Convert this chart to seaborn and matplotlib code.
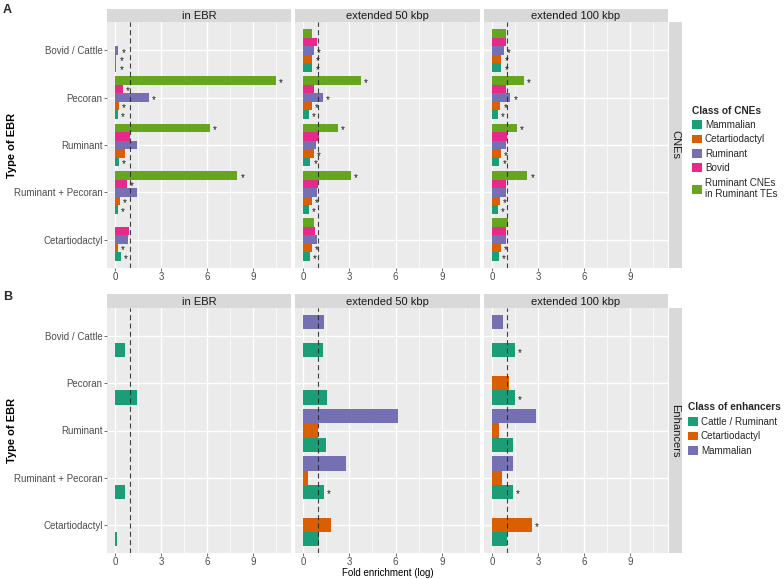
import numpy as np
import pandas as pd
import matplotlib
matplotlib.use("Agg")
import matplotlib.pyplot as plt
from matplotlib.patches import Patch
import seaborn as sns

# ---------------- data ----------------
ebr_types = ["Bovid / Cattle", "Pecoran", "Ruminant", "Ruminant + Pecoran", "Cetartiodactyl"]
facets = ["in EBR", "extended 50 kbp", "extended 100 kbp"]

cne_classes = ["Mammalian", "Cetartiodactyl", "Ruminant", "Bovid", "Ruminant CNEs\nin Ruminant TEs"]
cne_colors = ["#1B9E77", "#D95F02", "#7570B3", "#E7298A", "#66A61E"]

# rows: CNE classes, columns: EBR types
cne_in_ebr = [
    [0.09, 0.20, 0.24, 0.20, 0.41],
    [0.09, 0.26, 0.63, 0.33, 0.20],
    [0.22, 2.20, 1.41, 1.41, 0.83],
    [0.00, 0.54, 0.98, 0.80, 0.93],
    [0.00, 10.50, 6.20, 7.98, 0.00],
]
cne_in_ebr_sig = [
    [1, 1, 1, 1, 1],
    [1, 1, 0, 1, 1],
    [1, 1, 0, 0, 0],
    [0, 1, 0, 1, 0],
    [0, 1, 1, 1, 0],
]
cne_ext50 = [
    [0.61, 0.39, 0.48, 0.39, 0.46],
    [0.61, 0.57, 0.68, 0.57, 0.57],
    [0.72, 1.29, 0.81, 0.92, 0.88],
    [0.88, 0.74, 1.03, 0.94, 0.77],
    [0.57, 3.74, 2.28, 3.09, 0.70],
]
cne_ext50_sig = [
    [1, 1, 1, 1, 1],
    [1, 1, 1, 1, 1],
    [1, 1, 0, 0, 0],
    [0, 0, 0, 0, 0],
    [0, 1, 1, 1, 0],
]
cne_ext100 = [
    [0.61, 0.37, 0.48, 0.39, 0.46],
    [0.61, 0.55, 0.59, 0.50, 0.59],
    [0.79, 1.20, 0.90, 0.94, 0.94],
    [0.90, 0.90, 0.98, 0.94, 0.94],
    [0.90, 2.10, 1.60, 2.31, 1.05],
]
cne_ext100_sig = [
    [1, 1, 1, 1, 1],
    [1, 1, 1, 1, 1],
    [1, 1, 0, 0, 0],
    [0, 0, 0, 0, 0],
    [0, 1, 1, 1, 0],
]

enh_classes = ["Cattle / Ruminant", "Cetartiodactyl", "Mammalian"]
enh_colors = ["#1B9E77", "#D95F02", "#7570B3"]
enh_in_ebr = [
    [0.66, 1.45, 0.00, 0.66, 0.13],
    [0.00, 0.00, 0.00, 0.00, 0.00],
    [0.00, 0.00, 0.00, 0.00, 0.00],
]
enh_in_ebr_sig = [
    [0, 0, 0, 0, 0],
    [0, 0, 0, 0, 0],
    [0, 0, 0, 0, 0],
]
enh_ext50 = [
    [1.31, 1.53, 1.51, 1.36, 1.03],
    [0.00, 0.00, 0.96, 0.33, 1.82],
    [1.33, 0.00, 6.13, 2.80, 0.00],
]
enh_ext50_sig = [
    [0, 0, 0, 1, 0],
    [0, 0, 0, 0, 0],
    [0, 0, 0, 0, 0],
]
enh_ext100 = [
    [1.51, 1.51, 1.40, 1.35, 0.98],
    [0.00, 1.11, 0.44, 0.66, 2.60],
    [0.72, 0.00, 2.86, 1.40, 0.00],
]
enh_ext100_sig = [
    [1, 1, 0, 1, 0],
    [0, 0, 0, 0, 1],
    [0, 0, 0, 0, 0],
]

x_ticks = [0, 3, 6, 9]

# ---------------- style ----------------
sns.set_theme(style="darkgrid", rc={
    "axes.facecolor": "#EBEBEB",
    "grid.color": "white",
})
plt.rcParams["font.family"] = ["Liberation Sans", "DejaVu Sans"]

W, H = 784, 579
fig = plt.figure(figsize=(W / 100, H / 100), dpi=100)
fig.patch.set_facecolor("white")


def fx(px):
    return px / W


def fy(py):
    return 1 - py / H


def box(x0, y0, x1, y1):
    return [fx(x0), fy(y1), fx(x1) - fx(x0), fy(y0) - fy(y1)]


col_x = [(107, 291), (295, 480), (484, 668)]
rows = [
    dict(top=22, bottom=268, strip_top=8.5, classes=cne_classes, colors=cne_colors,
         data=[cne_in_ebr, cne_ext50, cne_ext100],
         sig=[cne_in_ebr_sig, cne_ext50_sig, cne_ext100_sig],
         side="CNEs", letter="A", letter_top=4, legend_title="Class of CNEs",
         legend_x=692, legend_top=105.5),
    dict(top=308, bottom=553, strip_top=294, classes=enh_classes, colors=enh_colors,
         data=[enh_in_ebr, enh_ext50, enh_ext100],
         sig=[enh_in_ebr_sig, enh_ext50_sig, enh_ext100_sig],
         side="Enhancers", letter="B", letter_top=291, legend_title="Class of enhancers",
         legend_x=688, legend_top=402.5),
]

tick_col = "#4D4D4D"
for r in rows:
    for j, (x0, x1) in enumerate(col_x):
        ax = fig.add_axes(box(x0, r["top"], x1, r["bottom"]))
        vals = r["data"][j]
        sig = r["sig"][j]
        recs = []
        for ci, cls in enumerate(r["classes"]):
            for ei, e in enumerate(ebr_types):
                recs.append(dict(ebr=e, cls=cls, value=vals[ci][ei]))
        df = pd.DataFrame(recs)
        hue_order = r["classes"][::-1]  # first class drawn at bottom of each group
        pal = dict(zip(r["classes"], r["colors"]))
        sns.barplot(data=df, x="value", y="ebr", hue="cls", order=ebr_types,
                    hue_order=hue_order, palette=pal, orient="h", width=0.9,
                    dodge=True, errorbar=None, saturation=1, legend=False, ax=ax,
                    linewidth=0)
        # significance asterisks
        for cont, cls in zip(ax.containers, hue_order):
            ci = r["classes"].index(cls)
            for ei, bar in enumerate(cont):
                if sig[ci][ei]:
                    ax.text(bar.get_width() + 0.2, bar.get_y() + bar.get_height() / 2 + 0.05,
                            "*", fontsize=7, ha="left", va="center", color="#1A1A1A")
        ax.axvline(1, color="#222222", linestyle=(0, (4.5, 3)), linewidth=0.8, alpha=0.85,
                   zorder=3)
        ax.set_xlim(-0.52, 11.48)
        ax.set_ylim(4.6, -0.6)
        ax.set_xticks(x_ticks)
        ax.set_xticks([1.5, 4.5, 7.5, 10.5], minor=True)
        ax.grid(which="major", axis="both", color="white", linewidth=1.0)
        ax.grid(which="minor", axis="x", color="white", linewidth=0.5)
        ax.tick_params(which="minor", length=0)
        ax.set_axisbelow(True)
        for s in ax.spines.values():
            s.set_visible(False)
        ax.tick_params(axis="x", which="major", length=2, width=0.5, color="#333333",
                       labelsize=7, labelcolor=tick_col, pad=0.8, bottom=True)
        ax.set_xticklabels([str(t) for t in x_ticks])
        ax.set_xlabel("")
        ax.set_ylabel("")
        if j == 0:
            ax.tick_params(axis="y", length=2, width=0.5, color="#333333",
                           labelsize=7, labelcolor=tick_col, pad=1.2, left=True)
            ax.set_ylabel("Type of EBR", fontsize=8, fontweight="bold", color="black")
            ax.yaxis.set_label_coords((12 - x0) / (x1 - x0), 0.5)
            ax.yaxis.label.set_va("center")
        else:
            ax.tick_params(axis="y", length=0, labelleft=False)
        if r["letter"] == "B" and j == 1:
            ax.set_xlabel("Fold enrichment (log)", fontsize=7, color="black")
            ax.xaxis.set_label_coords(0.5, -(573.5 - r["bottom"]) / (r["bottom"] - r["top"]))
            ax.xaxis.label.set_va("center")

        # top strip
        sax = fig.add_axes(box(x0, r["strip_top"], x1, r["top"]))
        sax.set_facecolor("#D9D9D9")
        sax.set_xticks([])
        sax.set_yticks([])
        for s in sax.spines.values():
            s.set_visible(False)
        sax.text(0.5, 0.45, facets[j], ha="center", va="center", fontsize=8,
                 color="#1A1A1A", transform=sax.transAxes)

    # right strip
    rax = fig.add_axes(box(669, r["top"], 682, r["bottom"]))
    rax.set_facecolor("#D9D9D9")
    rax.set_xticks([])
    rax.set_yticks([])
    for s in rax.spines.values():
        s.set_visible(False)
    rax.text(0.5, 0.5, r["side"], rotation=270, ha="center", va="center", fontsize=8,
             color="#1A1A1A", transform=rax.transAxes)

    # panel letter
    fig.text(fx(3), fy(r["letter_top"]), r["letter"], fontsize=9, fontweight="bold",
             ha="left", va="top")

    # legend
    handles = [Patch(facecolor=c, edgecolor="none") for c in r["colors"]]
    leg = fig.legend(handles, r["classes"], loc="upper left",
                     bbox_to_anchor=(fx(r["legend_x"]), fy(r["legend_top"])), frameon=False,
                     title=r["legend_title"],
                     title_fontproperties={"weight": "bold", "size": 7.3},
                     fontsize=7.1, handlelength=1.0, handleheight=1.0,
                     handletextpad=0.3, labelspacing=0.45, borderpad=0,
                     borderaxespad=0, alignment="left")

fig.savefig("out.png", dpi=100, facecolor="white")
